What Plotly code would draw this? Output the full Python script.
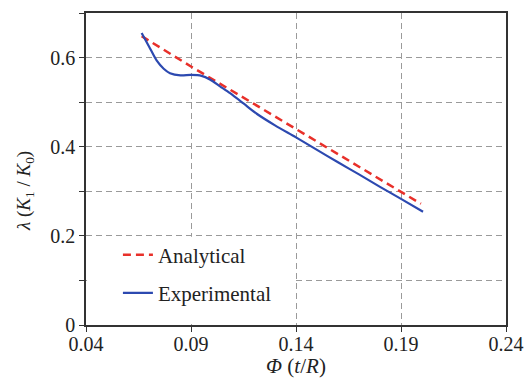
import plotly.graph_objects as go

# Data
analytical_x = [0.0665, 0.09, 0.12, 0.15, 0.18, 0.1995]
analytical_y = [0.648, 0.580, 0.496, 0.411, 0.326, 0.272]

experimental_x = [0.0665, 0.070, 0.0737, 0.077, 0.080, 0.085, 0.090, 0.095, 0.099,
                  0.104, 0.1086, 0.115, 0.1213, 0.130, 0.140, 0.150, 0.160, 0.170,
                  0.180, 0.190, 0.2005]
experimental_y = [0.655, 0.625, 0.593, 0.575, 0.565, 0.560, 0.561, 0.559, 0.551,
                  0.535, 0.520, 0.497, 0.474, 0.448, 0.421, 0.393, 0.365, 0.338,
                  0.310, 0.283, 0.254]

x_ticks = [0.04, 0.09, 0.14, 0.19, 0.24]
x_tick_labels = ["0.04", "0.09", "0.14", "0.19", "0.24"]
y_ticks = [0, 0.2, 0.4, 0.6]
y_tick_labels = ["0", "0.2", "0.4", "0.6"]

x_title = "<i>Φ</i> (<i>t</i>/<i>R</i>)"
y_title = "<i>λ</i> (<i>K</i><sub>1</sub> / <i>K</i><sub>0</sub>)"

FONT = "Liberation Serif"
GRID = "#9a9a9a"

fig = go.Figure()
fig.add_trace(go.Scatter(
    x=analytical_x, y=analytical_y, mode="lines", name="Analytical",
    legendgroup="a",
    line=dict(color="#e8302a", width=2.5, dash="8px,5px"),
))
fig.add_trace(go.Scatter(
    x=experimental_x, y=experimental_y, mode="lines", name="Experimental",
    legendgroup="b",
    line=dict(color="#2c49b0", width=2.2, shape="spline", smoothing=0.8),
))

# white patch hiding gridlines behind legend area
fig.add_shape(type="rect", xref="x", yref="y", x0=0.0405, x1=0.1395, y0=0.002, y1=0.198,
              fillcolor="white", line=dict(width=0), layer="between")

# y-axis title (placed off-centre as in the reference)
fig.add_annotation(text=y_title, xref="paper", yref="paper", x=-0.145, y=0.43,
                   xanchor="center", yanchor="middle", textangle=-90, showarrow=False,
                   font=dict(family=FONT, size=19, color="#222"))

fig.update_layout(
    width=524, height=378,
    margin=dict(l=86, r=18, t=13, b=53, autoexpand=False),
    paper_bgcolor="white", plot_bgcolor="white",
    font=dict(family=FONT, size=20, color="#222"),
    showlegend=True,
    legend=dict(x=0.076, y=0.29, xanchor="left", yanchor="top",
                bgcolor="rgba(0,0,0,0)", font=dict(family=FONT, size=21, color="#222"),
                tracegroupgap=8),
    xaxis=dict(
        range=[0.04, 0.24], tickvals=x_ticks, ticktext=x_tick_labels,
        showgrid=True, gridcolor=GRID, griddash="6px,4px", gridwidth=1,
        showline=True, linecolor="#333", linewidth=1.5, mirror=True,
        ticks="outside", ticklen=5, tickcolor="#333", zeroline=False,
        automargin=False, tickfont=dict(family=FONT, size=20),
        ticklabelstandoff=-5,
        title=dict(text=x_title, standoff=4,
                   font=dict(family=FONT, size=21)),
    ),
    yaxis=dict(
        range=[0, 0.7], tickvals=y_ticks, ticktext=y_tick_labels,
        showgrid=True, gridcolor=GRID, griddash="6px,4px", gridwidth=1,
        showline=True, linecolor="#333", linewidth=1.5, mirror=True,
        ticks="outside", ticklen=5, tickcolor="#333", zeroline=False,
        automargin=False, tickfont=dict(family=FONT, size=20),
        minor=dict(dtick=0.1, tick0=0, ticks="outside", ticklen=5, tickcolor="#333",
                   showgrid=True, gridcolor=GRID, griddash="6px,4px", gridwidth=1),
    ),
)

fig.write_html("out.html")
